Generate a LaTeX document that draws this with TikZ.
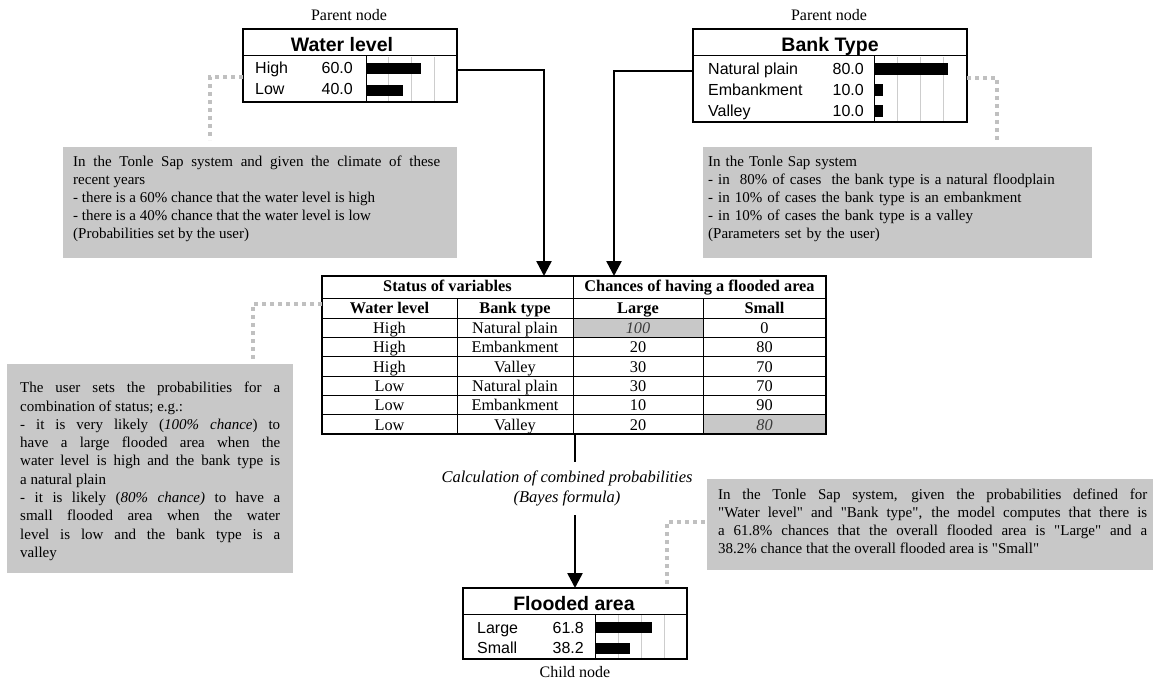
\documentclass[tikz,border=0pt]{standalone}
\usepackage{fontspec}
\setmainfont{Liberation Serif}[Ligatures=TeXOff]
\setsansfont{Liberation Sans}
\usetikzlibrary{arrows.meta}

\definecolor{notegray}{RGB}{200,200,200}
\definecolor{dotgray}{RGB}{192,192,192}
\definecolor{gridgray}{RGB}{205,205,205}
\definecolor{celltext}{RGB}{60,60,60}

\newcommand\notefont{\fontsize{15}{18}\selectfont}
\newcommand\capfont{\fontsize{16}{18}\selectfont}
\newcommand\tabfont{\fontsize{16.3}{19}\selectfont}
\newcommand\bntitlefont{\sffamily\bfseries\fontsize{19.5}{22}\selectfont}
\newcommand\bnrowfont{\sffamily\fontsize{16}{20}\selectfont}
\newcommand\gi[1]{\textcolor{celltext}{\itshape #1}}

\tikzset{
  bnframe/.style={draw=black, line width=1.3pt, inner sep=0pt, outer sep=0pt, anchor=north west},
  bnline/.style={draw=black, line width=1pt},
  gridline/.style={draw=gridgray, line width=0.6pt},
  barfill/.style={fill=black},
  bntitle/.style={font=\bntitlefont, inner sep=0pt, anchor=base},
  bnlabel/.style={font=\bnrowfont, inner sep=0pt, anchor=base west},
  bnvalue/.style={font=\bnrowfont, inner sep=0pt, anchor=base east},
  caption/.style={font=\capfont, inner sep=0pt, anchor=base},
  notebox/.style={fill=notegray, draw=none, inner sep=0pt, outer sep=0pt, anchor=north west},
  notetext/.style={font=\notefont, inner sep=0pt, anchor=north west},
  dots/.style={draw=dotgray, line width=4pt, dash pattern=on 4pt off 4pt},
  link/.style={draw=black, line width=2.5pt, -{Triangle[length=15pt,width=15pt]}},
  plainlink/.style={draw=black, line width=2.5pt},
  tabframe/.style={draw=black, line width=1.3pt, inner sep=0pt, outer sep=0pt, anchor=north west},
  tabline/.style={draw=black, line width=1pt},
  tabhead/.style={font=\tabfont\bfseries, inner sep=0pt, anchor=base},
  tabcell/.style={font=\tabfont, inner sep=0pt, anchor=base},
}

\begin{document}
\begin{tikzpicture}[x=1pt,y=-1pt]
\useasboundingbox (0,0) rectangle (1156,679);

% ---------------- parent node: Water level ----------------
\node[caption] (wlcap) at (349,21) {Parent node};
\node[bnframe, minimum width=214pt, minimum height=73pt] (wl) at (243,29) {};
\draw[bnline] (243,56) -- (457,56);
\draw[bnline] (366,56) -- (366,102);
\foreach \gx in {388.75,411.5,434.25} \draw[gridline] (\gx,57) -- (\gx,101);
\fill[barfill] (366,63.5) rectangle (421,74.5);
\fill[barfill] (366,85) rectangle (402.5,96);
\node[bntitle] (wltitle) at (342,52) {Water level};
\node[bnlabel] (wlhigh) at (255,74) {High};
\node[bnvalue] (wlhighv) at (353,74) {60.0};
\node[bnlabel] (wllow) at (255,95) {Low};
\node[bnvalue] (wllowv) at (353,95) {40.0};

% ---------------- parent node: Bank Type ----------------
\node[caption] (btcap) at (829,21) {Parent node};
\node[bnframe, minimum width=274pt, minimum height=93pt] (bt) at (693,29) {};
\draw[bnline] (693,56) -- (967,56);
\draw[bnline] (874,56) -- (874,122);
\foreach \gx in {897.25,920.5,943.75} \draw[gridline] (\gx,57) -- (\gx,121);
\fill[barfill] (874,63.5) rectangle (948.4,75);
\fill[barfill] (874,84.5) rectangle (883.3,96);
\fill[barfill] (874,105.5) rectangle (883.3,117);
\node[bntitle] (bttitle) at (830,52) {Bank Type};
\node[bnlabel] (btnat) at (708,75) {Natural plain};
\node[bnvalue] (btnatv) at (864,75) {80.0};
\node[bnlabel] (btemb) at (708,96) {Embankment};
\node[bnvalue] (btembv) at (864,96) {10.0};
\node[bnlabel] (btval) at (708,117) {Valley};
\node[bnvalue] (btvalv) at (864,117) {10.0};

% ---------------- notes on the parent nodes ----------------
\node[notebox, minimum width=394pt, minimum height=111pt] (notewl) at (63,147) {};
\node[notetext, text width=367pt, align=justify] (notewltxt) at (73,156)
  {In the Tonle Sap system and given the climate of these\linebreak
   recent years\newline
   - there is a 60\% chance that the water level is high\newline
   - there is a 40\% chance that the water level is low\newline
   (Probabilities set by the user)};

\node[notebox, minimum width=389pt, minimum height=111pt] (notebt) at (703,147) {};
\node[notetext, text width=375pt, align=left] (notebttxt) at (708,156)
  {In the Tonle Sap system\\
   - in~~80\% of cases~~the bank type is a natural floodplain\\
   - in 10\% of cases the bank type is an embankment\\
   - in 10\% of cases the bank type is a valley\\
   (Parameters set by the user)};

% ---------------- conditional probability table ----------------
\fill[notegray] (573,318) rectangle (703,337.33);
\fill[notegray] (703,414.67) rectangle (826,434);
\node[tabframe, minimum width=504pt, minimum height=158pt] (tab) at (322,276) {};
\draw[tabline] (322,298) -- (826,298);
\draw[tabline] (322,318) -- (826,318);
\foreach \ry in {337.33,356.67,376,395.33,414.67} \draw[tabline] (322,\ry) -- (826,\ry);
\draw[tabline] (573,276) -- (573,434);
\draw[tabline] (457,298) -- (457,434);
\draw[tabline] (703,298) -- (703,434);

\node[tabhead] (hstatus) at (447.5,291.5) {Status of variables};
\node[tabhead] (hchance) at (699.5,291.5) {Chances of having a flooded area};
\node[tabhead] (hwl) at (389.5,313.5) {Water level};
\node[tabhead] (hbt) at (515,313.5) {Bank type};
\node[tabhead] (hlarge) at (638,313.5) {Large};
\node[tabhead] (hsmall) at (764.5,313.5) {Small};

\foreach \r/\wa/\ba/\la/\sa in {
    1/High/Natural plain/\gi{100}/0,
    2/High/Embankment/20/80,
    3/High/Valley/30/70,
    4/Low/Natural plain/30/70,
    5/Low/Embankment/10/90,
    6/Low/Valley/20/\gi{80}} {
  \pgfmathsetmacro\by{318+\r*19.333-3.8}
  \node[tabcell] (cw\r) at (389.5,\by) {\wa};
  \node[tabcell] (cb\r) at (515,\by) {\ba};
  \node[tabcell] (cl\r) at (638,\by) {\la};
  \node[tabcell] (cs\r) at (764.5,\by) {\sa};
}

% note on the table
\node[notebox, minimum width=286pt, minimum height=209pt] (notetab) at (7,364) {};
\node[notetext, text width=260pt, align=justify, font=\fontsize{15}{18.3}\selectfont] (notetabtxt) at (20,382)
  {The user sets the probabilities for a\linebreak
   combination of status; e.g.:\newline
   - it is very likely (\textit{100\% chance}) to\linebreak
   have a large flooded area when the\linebreak
   water level is high and the bank type is\linebreak
   a natural plain\newline
   - it is likely (\textit{80\% chance)} to have a\linebreak
   small flooded area when the water\linebreak
   level is low and the bank type is a\linebreak
   valley};

% ---------------- child node: Flooded area ----------------
\node[bnframe, minimum width=224pt, minimum height=71pt] (fa) at (463,588) {};
\draw[bnline] (463,614) -- (687,614);
\draw[bnline] (595,614) -- (595,659);
\foreach \gx in {618,641,664} \draw[gridline] (\gx,615) -- (\gx,658);
\fill[barfill] (595,622) rectangle (651.9,633);
\fill[barfill] (595,643) rectangle (630.1,654);
\node[bntitle] (fatitle) at (574,610) {Flooded area};
\node[bnlabel] (falarge) at (477,633) {Large};
\node[bnvalue] (falargev) at (584,633) {61.8};
\node[bnlabel] (fasmall) at (477,653) {Small};
\node[bnvalue] (fasmallv) at (584,653) {38.2};
\node[caption] (facap) at (575,677) {Child node};

% combination step between table and child node
\node[font=\fontsize{16.5}{20}\selectfont\itshape, align=center, inner sep=0pt, minimum height=53pt] (calc) at (567,488.5)
  {Calculation of combined probabilities\\(Bayes formula)};

% note on the child node
\node[notebox, minimum width=446pt, minimum height=91pt] (notefa) at (707,479) {};
\node[notetext, text width=429pt, align=justify] (notefatxt) at (718,488.5)
  {In the Tonle Sap system, given the probabilities defined for\linebreak
   "Water level" and "Bank type", the model computes that there is\linebreak
   a 61.8\% chances that the overall flooded area is "Large" and a\linebreak
   38.2\% chance that the overall flooded area is "Small"};

% ---------------- connectors ----------------
\draw[link] (wl.east |- wlhigh) -| ([xshift=-30pt]tab.north);
\draw[link] (bt.west |- btnat) -| ([xshift=40pt]tab.north);
\draw[plainlink] (fa.north |- tab.south) -- (fa.north |- calc.north);
\draw[link] (fa.north |- calc.south) -- (fa.north);

% dotted leaders from the notes
\coordinate (dwl) at (210,140);
\coordinate (dbt) at (997,140);
\coordinate (dtab) at (253,362);
\coordinate (dfa) at (667,584);
\draw[dots] (wl.west |- 0,77) -| (dwl);
\draw[dots] (bt.east |- 0,78) -| (dbt);
\draw[dots] (tab.west |- 0,304) -| (dtab);
\draw[dots] (dfa) |- (notefa.west |- 0,522);
\end{tikzpicture}
\end{document}
